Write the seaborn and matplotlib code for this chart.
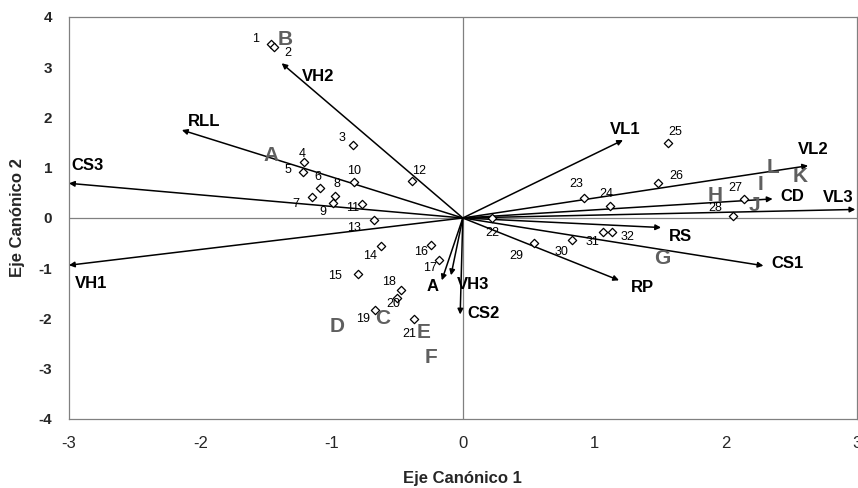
import numpy as np
import pandas as pd
import matplotlib
matplotlib.use('Agg')
import matplotlib.pyplot as plt
import seaborn as sns

# canonical scores of the 32 samples
obs_id = [str(i) for i in range(1, 33)]
obs_x = [-1.46, -1.44, -0.84, -1.21, -1.22, -1.09, -1.15, -0.97, -0.99, -0.83,
         -0.77, -0.39, -0.68, -0.62, -0.80, -0.24, -0.18, -0.47, -0.67, -0.50,
         -0.37, 0.22, 0.92, 1.12, 1.56, 1.49, 2.14, 2.06, 0.54, 0.83, 1.07, 1.14]
obs_y = [3.47, 3.41, 1.45, 1.11, 0.91, 0.59, 0.41, 0.43, 0.29, 0.71,
         0.27, 0.73, -0.04, -0.55, -1.11, -0.54, -0.84, -1.44, -1.83, -1.60,
         -2.02, 0.00, 0.39, 0.24, 1.50, 0.69, 0.38, 0.03, -0.50, -0.44, -0.27, -0.27]

# variable vectors (loadings)
var_names = ['VH2', 'RLL', 'CS3', 'VH1', 'VL1', 'VL2', 'CD', 'VL3', 'RS', 'CS1', 'RP', 'A', 'VH3', 'CS2']
var_x = [-1.38, -2.14, -3.0, -3.0, 1.22, 2.63, 2.36, 2.99, 1.51, 2.29, 1.19, -0.16, -0.09, -0.02]
var_y = [3.08, 1.75, 0.69, -0.94, 1.55, 1.04, 0.38, 0.17, -0.19, -0.95, -1.24, -1.24, -1.14, -1.92]

# group letters
grp_names = ['B', 'A', 'D', 'C', 'E', 'F', 'G', 'H', 'I', 'J', 'L', 'K']
grp_x = [-1.35, -1.46, -0.96, -0.61, -0.30, -0.24, 1.52, 1.92, 2.27, 2.22, 2.36, 2.57]
grp_y = [3.55, 1.25, -2.15, -2.01, -2.27, -2.77, -0.80, 0.44, 0.66, 0.24, 1.00, 0.82]

xticks = [-3, -2, -1, 0, 1, 2, 3]
yticks = [-4, -3, -2, -1, 0, 1, 2, 3, 4]

# label placement (pixel offsets)
obs_off = [(-16, 5), (14, -6), (-11, 7), (-2, 8), (-15, 2), (-2, 11), (-16, -7), (1, 12),
           (-10, -9), (0, 11), (-9, -4), (7, 10), (-20, -8), (-11, -10), (-23, -2), (-10, -7),
           (-9, -8), (-12, 8), (-12, -9), (-4, -6), (-5, -15), (1, -15), (-7, 14), (-4, 12),
           (8, 11), (18, 7), (-8, 11), (-18, 8), (-17, -13), (-10, -12), (-11, -10), (15, -5)]
var_off = [(36, -13), (22, 9), (19, 18), (22, -18), (2, 11), (5, 16), (20, 2), (-17, 12),
           (19, -9), (24, 2), (23, -7), (-9, -6), (22, -9), (23, 1)]

sns.set_style('white')
plt.rcParams['font.family'] = ['Liberation Sans', 'DejaVu Sans']

df = pd.DataFrame({'x': obs_x, 'y': obs_y, 'id': obs_id})

fig = plt.figure(figsize=(8.58, 4.88), dpi=100)
ax = fig.add_axes([0.0804, 0.1414, 0.918, 0.8238])

ax.axhline(0, color='#808080', lw=0.9, zorder=1)
ax.axvline(0, color='#808080', lw=0.9, zorder=1)

for name, vx, vy, off in zip(var_names, var_x, var_y, var_off):
    ax.annotate('', xy=(vx, vy), xytext=(0, 0),
                arrowprops=dict(arrowstyle='-|>', color='black', lw=1.1,
                                mutation_scale=8, shrinkA=0, shrinkB=0),
                zorder=3, annotation_clip=False)
    ax.annotate(name, xy=(vx, vy), xytext=off, textcoords='offset pixels',
                ha='center', va='center', fontsize=12, fontweight='bold',
                color='black', zorder=5, annotation_clip=False)

sns.scatterplot(data=df, x='x', y='y', marker='D', s=18, facecolor='white',
                edgecolor='black', linewidth=0.9, ax=ax, zorder=4)

for i, px, py, off in zip(obs_id, obs_x, obs_y, obs_off):
    ax.annotate(i, xy=(px, py), xytext=off, textcoords='offset pixels',
                ha='center', va='center', fontsize=9, color='black', zorder=5)

for g, gx, gy in zip(grp_names, grp_x, grp_y):
    ax.text(gx, gy, g, ha='center', va='center', fontsize=15, fontweight='bold',
            color='#5f5f5f', zorder=5)

ax.set_xlim(-3, 3)
ax.set_ylim(-4, 4)
ax.set_xticks(xticks)
ax.set_yticks(yticks)
ax.set_xticklabels([str(t) for t in xticks], fontsize=12, family=['Liberation Sans Narrow', 'Liberation Sans'])
ax.set_yticklabels([str(t) for t in yticks], fontsize=11, fontweight='bold')
ax.tick_params(axis='x', length=0, pad=12)
ax.tick_params(axis='y', length=0, pad=12)
ax.set_xlabel('Eje Canónico 1', fontsize=12, fontweight='bold', labelpad=15,
              family=['Liberation Sans Narrow', 'Liberation Sans'])
ax.set_ylabel('Eje Canónico 2', fontsize=12, fontweight='bold', labelpad=10)

for sp in ax.spines.values():
    sp.set_color('#808080')
    sp.set_linewidth(0.9)

fig.savefig('out.png', dpi=100)
